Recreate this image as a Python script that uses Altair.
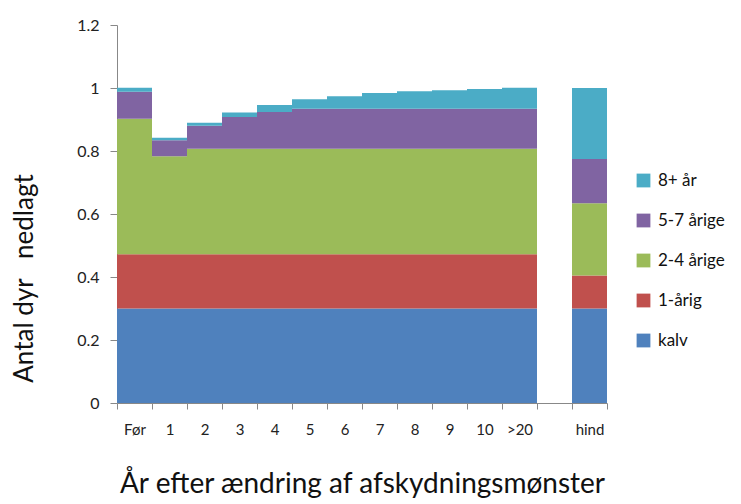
import altair as alt
import pandas as pd

categories = ["Før", "1", "2", "3", "4", "5", "6", "7", "8", "9", "10", ">20", " ", "hind"]
series = ["kalv", "1-årig", "2-4 årige", "5-7 årige", "8+ år"]
kalv =      [0.300, 0.300, 0.300, 0.300, 0.300, 0.300, 0.300, 0.300, 0.300, 0.300, 0.300, 0.300, None, 0.300]
aarig1 =    [0.172, 0.172, 0.172, 0.172, 0.172, 0.172, 0.172, 0.172, 0.172, 0.172, 0.172, 0.172, None, 0.105]
aarige24 =  [0.430, 0.311, 0.335, 0.335, 0.335, 0.335, 0.335, 0.335, 0.335, 0.335, 0.335, 0.335, None, 0.229]
aarige57 =  [0.086, 0.051, 0.073, 0.101, 0.117, 0.127, 0.127, 0.127, 0.127, 0.127, 0.127, 0.127, None, 0.141]
aar8 =      [0.013, 0.008, 0.010, 0.014, 0.022, 0.030, 0.040, 0.050, 0.056, 0.059, 0.063, 0.067, None, 0.225]
colors = ["#4BACC6", "#8064A2", "#9BBB59", "#C0504D", "#4F81BD"]
legend_order = ["8+ år", "5-7 årige", "2-4 årige", "1-årig", "kalv"]

rows = []
for s_i, (name, vals) in enumerate(zip(series, [kalv, aarig1, aarige24, aarige57, aar8])):
    for c, v in zip(categories, vals):
        if v is not None:
            rows.append({"cat": c, "serie": name, "val": v, "idx": s_i})
df = pd.DataFrame(rows)

FONT = "Lato"
NB = "\u00a0"

chart = alt.Chart(df).mark_bar(strokeWidth=0).encode(
    x=alt.X("cat:N", sort=categories,
            scale=alt.Scale(domain=categories, paddingInner=0, paddingOuter=0),
            axis=alt.Axis(title="År efter ændring af afskydningsmønster", labelAngle=0,
                          tickBand="extent", domainColor="#888888", tickColor="#888888",
                          tickSize=6, labelFontSize=15, labelColor="#222222",
                          labelPadding=13, titleFontSize=28, titleFontWeight="normal",
                          titleColor="#111111", titlePadding=33, labelFont=FONT, titleFont=FONT)),
    y=alt.Y("val:Q", stack="zero",
            scale=alt.Scale(domain=[0, 1.2]),
            axis=alt.Axis(title="Antal dyr" + NB * 3 + "nedlagt", values=[0, 0.2, 0.4, 0.6, 0.8, 1.0, 1.2],
                          format="~g", grid=False, domainColor="#888888", tickColor="#888888",
                          tickSize=7, labelFontSize=16, labelColor="#222222", labelPadding=11,
                          titleFontSize=26, titleFontWeight="normal", titleColor="#111111",
                          titleX=-80, titleY=253, titleAlign="center",
                          labelFont=FONT, titleFont=FONT)),
    color=alt.Color("serie:N", scale=alt.Scale(domain=legend_order, range=colors),
                    legend=alt.Legend(title=None, orient="none", legendX=518, legendY=147,
                                      symbolType="square", symbolSize=190, symbolStrokeWidth=0,
                                      labelFontSize=17, labelColor="#111111", labelFont=FONT,
                                      rowPadding=22, labelOffset=6)),
    order=alt.Order("idx:Q", sort="ascending"),
).properties(
    width=490, height=378,
    padding={"left": 109, "top": 17, "right": 126, "bottom": 100},
    autosize=alt.AutoSizeParams(type="none"),
).configure_view(stroke=None)

chart.save("out.html", embed_options={"renderer": "svg", "actions": False})
